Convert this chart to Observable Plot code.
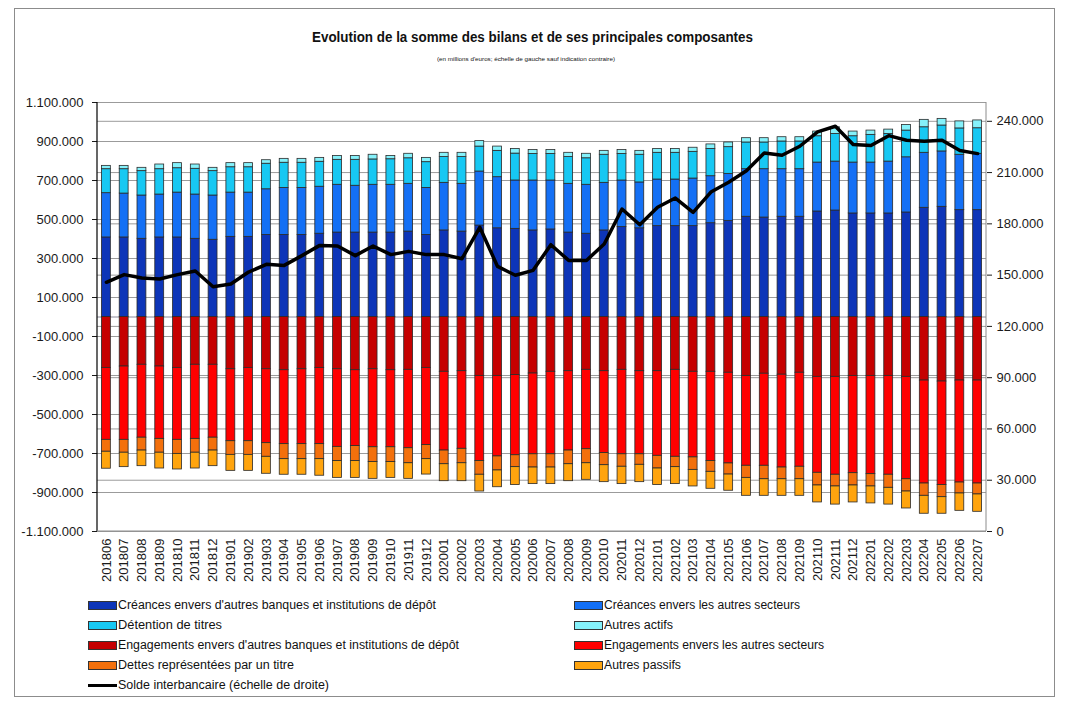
<!DOCTYPE html>
<html><head><meta charset="utf-8">
<script src="https://cdn.jsdelivr.net/npm/d3@7"></script>
<script src="https://cdn.jsdelivr.net/npm/@observablehq/plot@0.6"></script>
<style>
body{margin:0;background:#fff;}
#wrap{position:relative;width:1073px;height:712px;overflow:hidden;font-family:"Liberation Sans",Arial,sans-serif;color:#111;}
#border{position:absolute;left:14px;top:8px;width:1041px;height:689px;border:1px solid #8c8c8c;box-sizing:border-box;}
#chart{position:absolute;left:0;top:0;}
.fit{position:absolute;white-space:nowrap;transform-origin:0 50%;}
.sw{position:absolute;box-sizing:border-box;border:1px solid #333;}
.lsw{position:absolute;height:3px;background:#000;}
</style>
</head><body>
<div id="wrap">
  <div id="border"></div>
  <div id="chart"></div>
</div>
<script>
// ---------- DATA (millions d'euros) ----------
const months = ["201806","201807","201808","201809","201810","201811","201812",
"201901","201902","201903","201904","201905","201906","201907","201908","201909","201910","201911","201912",
"202001","202002","202003","202004","202005","202006","202007","202008","202009","202010","202011","202012",
"202101","202102","202103","202104","202105","202106","202107","202108","202109","202110","202111","202112",
"202201","202202","202203","202204","202205","202206","202207"];

const seriesNames = [
 "Créances envers d'autres banques et institutions de dépôt",
 "Créances envers les autres secteurs",
 "Détention de titres",
 "Autres actifs",
 "Engagements envers d'autres banques et institutions de dépôt",
 "Engagements envers les autres secteurs",
 "Dettes représentées par un titre",
 "Autres passifs"
];
const lineName = "Solde interbancaire (échelle de droite)";

const creancesBanques = [408000,408000,401000,408000,408000,401000,396000,411000,411000,421000,
421000,421000,427000,433000,433000,433000,433000,438000,421000,444000,
438000,469000,455000,452000,444000,449000,433000,427000,444000,461000,
455000,466000,466000,466000,481000,493000,514000,510000,514000,514000,
541000,546000,531000,531000,531000,536000,560000,565000,548000,548000];
const creancesAutres = [227000,225000,222000,220000,230000,227000,227000,227000,227000,234000,
241000,241000,241000,245000,240000,245000,245000,245000,241000,244000,
245000,277000,262000,248000,256000,251000,250000,251000,244000,239000,
235000,239000,239000,244000,241000,241000,244000,248000,244000,244000,
251000,251000,261000,261000,266000,283000,282000,284000,284000,289000];
const detentionTitres = [123000,125000,125000,130000,125000,132000,125000,130000,130000,131000,
129000,129000,128000,128000,133000,130000,131000,131000,132000,132000,
137000,128000,135000,138000,136000,136000,137000,136000,144000,136000,
142000,137000,137000,137000,140000,137000,137000,137000,142000,142000,
135000,142000,135000,142000,142000,137000,131000,133000,135000,131000];
const autresActifs = [17000,17000,17000,24000,26000,22000,17000,21000,21000,18000,
20000,20000,20000,20000,20000,24000,17000,23000,22000,22000,
22000,28000,22000,24000,20000,20000,22000,23000,20000,20000,
20000,20000,20000,21000,23000,24000,22000,22000,22000,22000,
24000,34000,24000,22000,22000,29000,38000,34000,36000,40000];
const engagementsBanques = [261000,254000,245000,254000,261000,245000,245000,268000,261000,268000,
273000,268000,261000,268000,273000,268000,273000,271000,261000,281000,
278000,302000,302000,298000,290000,281000,278000,271000,278000,271000,
278000,278000,271000,281000,281000,286000,302000,291000,296000,286000,
307000,307000,302000,302000,302000,307000,326000,331000,326000,326000];
const engagementsAutres = [369000,376000,374000,371000,369000,380000,374000,369000,376000,379000,
379000,384000,391000,398000,389000,400000,395000,402000,396000,404000,
398000,437000,413000,411000,414000,423000,407000,407000,420000,433000,
426000,434000,446000,439000,458000,465000,461000,472000,476000,482000,
492000,502000,499000,504000,507000,525000,528000,531000,523000,528000];
const dettesTitre = [61000,66000,66000,71000,72000,71000,66000,70000,70000,70000,
77000,77000,77000,73000,77000,76000,76000,77000,72000,70000,
74000,70000,72000,61000,68000,68000,70000,72000,62000,64000,
54000,65000,53000,64000,55000,57000,62000,69000,60000,64000,
65000,60000,63000,63000,67000,63000,63000,62000,56000,56000];
const autresPassifs = [87000,74000,80000,81000,80000,81000,80000,82000,82000,87000,
80000,80000,85000,86000,86000,86000,81000,80000,79000,87000,
92000,86000,86000,92000,85000,85000,87000,85000,87000,89000,
89000,85000,87000,85000,87000,83000,92000,85000,85000,85000,
87000,93000,87000,87000,86000,87000,92000,85000,89000,89000];
const soldeInterbancaire = [145800,150300,148300,147700,150300,152400,143200,144800,151800,156300,
155700,161400,167400,167000,161400,167000,162000,163900,162000,162000,
159600,178000,155100,149900,152800,167800,158600,158600,168200,188700,
179500,189700,195100,186700,198600,204300,211100,221500,220100,225400,
233800,237100,226400,225800,231600,228900,228300,228900,222900,221100];

const leftTicks = [-1100000,-900000,-700000,-500000,-300000,-100000,100000,300000,500000,700000,900000,1100000];
const rightTicks = [0,30000,60000,90000,120000,150000,180000,210000,240000];

// ---------- STYLE ----------
const seriesColors = ["#0d35b8","#1470f5","#17c8f3","#85f1fa","#c50000","#ff0000","#f3700c","#ffa40e"];

// ---------- BUILD TABLE ----------
const assets = [creancesBanques, creancesAutres, detentionTitres, autresActifs];
const liabs = [engagementsBanques, engagementsAutres, dettesTitre, autresPassifs];
const table = [];
assets.forEach((arr, k) => arr.forEach((v, i) => table.push({month: months[i], series: seriesNames[k], value: v})));
liabs.forEach((arr, k) => arr.forEach((v, i) => table.push({month: months[i], series: seriesNames[k + 4], value: -v})));

const R = 251000; // right-axis maximum at top of plot
const toLeft = v => -1100000 + v * 2200000 / R;
const fromLeft = y => (y + 1100000) * R / 2200000;
const lineData = months.map((m, i) => ({month: m, y: toLeft(soldeInterbancaire[i])}));
const fmt = v => (v < 0 ? "-" : "") + d3.format(",")(Math.abs(v)).replace(/,/g, ".");

const chart = Plot.plot({
  width: 1073, height: 600,
  marginTop: 102, marginBottom: 69, marginLeft: 97, marginRight: 87,
  style: {fontFamily: "'Liberation Sans', Arial, sans-serif", fontSize: "13px", color: "#1a1a1a", background: "transparent", overflow: "visible"},
  x: {domain: months, paddingInner: 0.5, paddingOuter: 0.25, label: null},
  y: {domain: [-1100000, 1100000], label: null},
  color: {domain: seriesNames, range: seriesColors},
  marks: [
    Plot.gridY(leftTicks, {stroke: "#9b9b9b", strokeOpacity: 1}),
    Plot.gridY(rightTicks.map(toLeft), {stroke: "#9b9b9b", strokeOpacity: 1}),
    Plot.ruleY([0], {stroke: "#8a8a9a"}),
    Plot.barY(table, {x: "month", y: "value", z: "series", fill: "series", stroke: "#2a2a2a", strokeWidth: 0.8}),
    Plot.line(lineData, {x: "month", y: "y", stroke: "#000", strokeWidth: 3.5, strokeLinejoin: "round"}),
    Plot.axisY(leftTicks, {anchor: "left", tickFormat: fmt, tickSize: 5, tickPadding: 9, label: null}),
    Plot.axisY(rightTicks.map(toLeft), {anchor: "right", tickFormat: d => fmt(Math.round(fromLeft(d) / 1000) * 1000), tickSize: 5, tickPadding: 5, label: null}),
    Plot.axisX({tickRotate: -90, tickSize: 0, tickPadding: 7, label: null})
  ]
});
document.getElementById("chart").appendChild(chart);

// axis lines
const svg = d3.select(chart);
svg.append("line").attr("x1", 97).attr("x2", 97).attr("y1", 102).attr("y2", 531).attr("stroke", "#000").attr("stroke-width", 1.2);
svg.append("line").attr("x1", 986).attr("x2", 986).attr("y1", 102).attr("y2", 531).attr("stroke", "#8c8c8c").attr("stroke-width", 1);
svg.append("line").attr("x1", 97).attr("x2", 986).attr("y1", 531).attr("y2", 531).attr("stroke", "#8c8c8c").attr("stroke-width", 1);

// ---------- TEXTS ----------
const wrap = document.getElementById("wrap");
function addText(txt, left, cy, width, css) {
  const el = document.createElement("div");
  el.className = "fit";
  el.textContent = txt;
  el.style.cssText += css;
  el.style.left = left + "px";
  wrap.appendChild(el);
  const r = el.getBoundingClientRect();
  el.style.top = (cy - r.height / 2) + "px";
  el.style.transform = `scaleX(${width / r.width})`;
  return el;
}
addText("Evolution de la somme des bilans et de ses principales composantes", 312, 37, 441, "font-weight:bold;font-size:14px;line-height:16px;");
addText("(en millions d'euros; échelle de gauche sauf indication contraire)", 437, 59, 178, "font-size:6px;line-height:8px;");

const legendItems = [
  {k: 0, col: 0, cy: 605, w: 318}, {k: 1, col: 1, cy: 605, w: 196},
  {k: 2, col: 0, cy: 625, w: 104}, {k: 3, col: 1, cy: 625, w: 69},
  {k: 4, col: 0, cy: 645, w: 341}, {k: 5, col: 1, cy: 645, w: 220},
  {k: 6, col: 0, cy: 665, w: 176}, {k: 7, col: 1, cy: 665, w: 77}
];
const colX = [88, 574];
legendItems.forEach(it => {
  const sw = document.createElement("div");
  sw.className = "sw";
  sw.style.left = colX[it.col] + "px";
  sw.style.top = (it.cy - 4) + "px";
  sw.style.width = "29px";
  sw.style.height = "9px";
  sw.style.background = seriesColors[it.k];
  wrap.appendChild(sw);
  addText(seriesNames[it.k], colX[it.col] + 30, it.cy, it.w, "font-size:12px;line-height:14px;");
});
const lsw = document.createElement("div");
lsw.className = "lsw";
lsw.style.left = "88px"; lsw.style.top = "684px"; lsw.style.width = "29px";
wrap.appendChild(lsw);
addText(lineName, 118, 685, 211, "font-size:12px;line-height:14px;");
</script>
</body></html>
